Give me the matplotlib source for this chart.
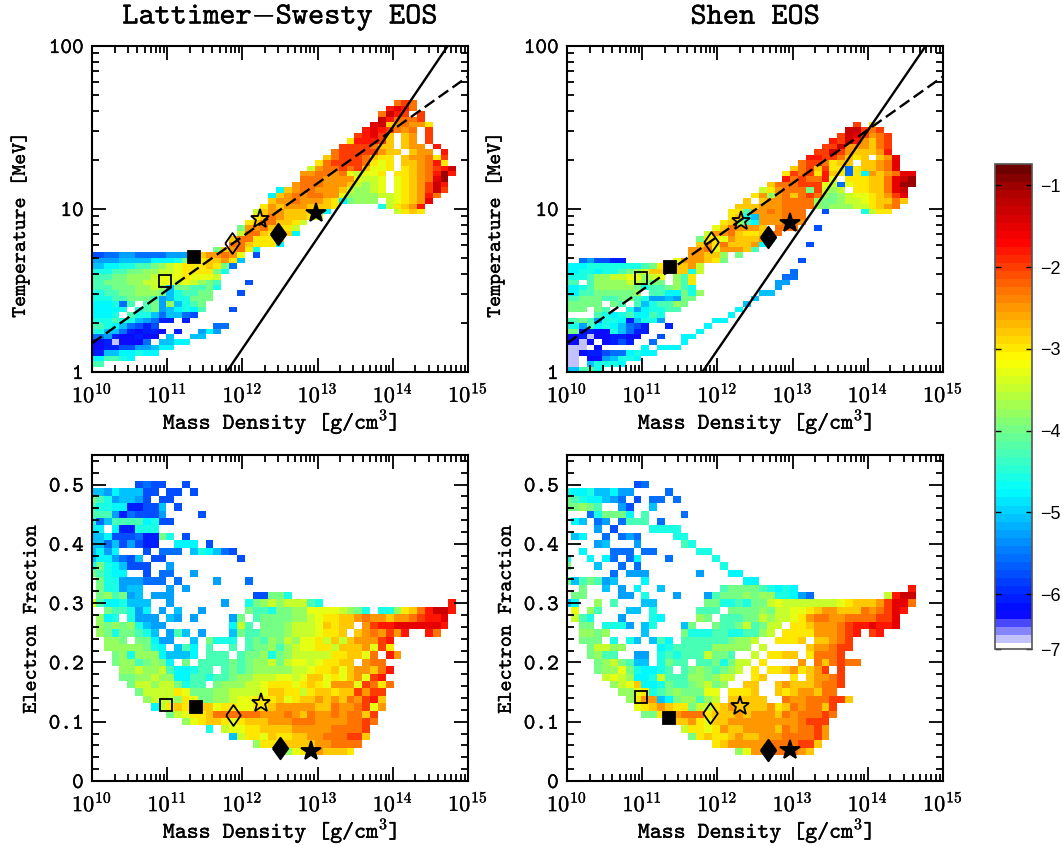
import matplotlib
matplotlib.use('Agg')
import matplotlib.pyplot as plt
import matplotlib.patheffects as pe
from matplotlib.colors import LinearSegmentedColormap, Normalize
from matplotlib.ticker import FixedLocator, LogLocator, NullFormatter
from matplotlib.cm import ScalarMappable
from matplotlib.text import Text
import numpy as np

# cell codes: '.' is an empty cell, otherwise log10 value = -7 + 0.25 * index in CODES
CODES = '0123456789abcdefghijklmnop'

# (temperature bin, first density bin, codes)
ls_temp_cells = [
    (49, 39, 'jkj'), (48, 38, 'lmlj'), (47, 37, 'jnlk.k'), (46, 37, 'nljjjk'),
    (45, 36, 'mnhijiig'), (44, 35, 'lmlkjij.k'), (43, 34, 'klmkh.hi.k'),
    (42, 33, 'glllkh.hi.k'), (41, 32, 'kkkkjhh.hii.l'), (40, 31, 'jkkkkkihh.hii.l'),
    (39, 30, 'hjkkkjhgg.hiijgk'), (38, 29, 'gjkkkkjgfg.hhijlg'),
    (37, 28, 'eijjkjkhffg.ghijkln'), (36, 27, 'iijjijfeffg.gghijlol'),
    (35, 27, 'jjjiiiifeef.fghijmo'), (34, 26, 'ijjjiiihedef.fghiknl'),
    (33, 24, '9hijjiiiheddef.fghiknk'), (32, 23, '9hijijjiifddddeefghilj'),
    (31, 23, 'hiijiiihg9cddd.efghim'), (30, 22, 'gihiiihhhg.....aeghil'),
    (29, 21, 'ehiihhhhg9........eghg'), (28, 21, 'ghjihhhge'), (27, 20, 'ghjjhhge'),
    (26, 19, 'ciijhgge'), (25, 19, 'ejjhggh9'), (24, 18, 'hjjgggh'), (23, 18, 'jjhggg9'),
    (22, 16, 'chijga'), (21, 0, '5566776666777'), (21, 13, '8hiijif.5'),
    (20, 0, '77778888999acgghhig8'), (19, 0, '8899aabbcdefggghgc6'),
    (18, 0, 'aaabbccddeefggggca'), (17, 0, 'bbbccdddefffgfffe'),
    (16, 0, 'bbcccddeeffefedcb'), (16, 20, '5'), (15, 0, 'bbbcccdded8ccbbca'),
    (14, 0, 'aabbccdddc8abbcc'), (14, 19, '5'), (13, 0, 'aaabbcccb78aaccc'),
    (12, 0, '999a6b.bc7d8abc'), (11, 0, '9999a.abc789a9b'), (11, 18, '5'),
    (10, 0, '999a.baa868865'), (9, 0, 'aaabaa87644.4'), (8, 0, 'bba986545'), (8, 16, '66'),
    (7, 0, 'aa88643443.4..797'), (6, 0, '667433433.8..88'), (5, 0, '33423336.8899'),
    (4, 0, '33445577899'), (3, 0, '448899a99'), (2, 0, '99bba9'), (1, 0, 'bb'),
]

shen_temp_cells = [
    (45, 37, 'k.g'), (44, 36, 'nnkjk'), (43, 35, 'knmkijk'), (42, 34, 'lknlihjk'),
    (41, 33, 'kkniiihjk'), (40, 32, 'kknkihhhil'), (39, 31, 'llkkjhgh.him'),
    (38, 30, 'jkkjghh.hhijm'), (37, 29, 'hjkhkgg6ghhijm'), (36, 28, 'gkjkglhg6g9ihijmm'),
    (35, 28, 'ljkjjlf.ggghhjmno'), (34, 26, 'hjjjkkkfe6fgghhjmoo'),
    (33, 25, 'egijjjckede.gghhjmn'), (32, 24, 'gidijhjkjdcdeffghikm'),
    (31, 23, 'h.hiijjjjdccdeefghhjh'), (30, 22, 'hhhiiijjjjdcdddeeghij'),
    (29, 21, 'ggbiijijjj'), (29, 33, '5'), (29, 38, 'aegg'),
    (28, 21, 'gha8iiijjj'), (27, 20, 'ghdb9iiijji'), (26, 19, 'fhjiiih.jjj'), (26, 32, '5'),
    (25, 18, 'eiijhgghjj'), (24, 17, 'cggfihhhi9'), (23, 17, 'higjhhhi9'), (23, 31, '5'),
    (22, 16, 'iijfiiihb'), (21, 16, 'iihhd.c'), (20, 2, '675544'), (20, 14, 'fiiihgc'),
    (20, 30, '5'), (19, 0, '999aaaaaaabcghhhie'), (18, 0, '99aa9aabcdehhhhhae'), (18, 29, '6'),
    (17, 0, 'aaabddeeffdef.dbg'), (17, 28, '66'), (16, 0, 'bb.bddddeedcc.dbg'), (16, 27, '77'),
    (15, 0, '99abdddddcabbcdba'), (15, 27, '7'), (14, 0, '99bbcccccd.bb99cad'), (14, 25, '88'),
    (13, 0, 'bbcccbbccba7787cc'), (13, 24, '8'), (12, 0, 'ccccc.cb.b8abbdc'), (12, 23, '8'),
    (11, 0, 'ccc.cb..a79aabb'), (11, 22, '9'), (10, 4, 'ba9ab99ba'), (10, 21, '9'),
    (9, 0, 'bbcb7aa948aa7'), (9, 19, '99'), (8, 0, 'aa7b9a98654'), (8, 13, '4'), (8, 18, '9'),
    (7, 0, 'cc3433a8644'), (7, 17, '9'), (6, 0, '3342334433'), (6, 12, '5'), (6, 15, '99'),
    (5, 0, '3323.345'), (5, 8, '4'), (5, 11, '6'), (5, 15, '9'),
    (4, 0, '222.3'), (4, 10, '9'), (4, 12, '999'), (3, 0, '22344566'), (3, 8, '9a99'),
    (2, 0, '22.3378aa9'), (1, 0, '22.8aaa9'), (0, 0, '88bba'),
]

# (electron fraction bin, first density bin, codes)
ls_ye_cells = [
    (40, 6, '5655..5'), (39, 0, '887988855.55.5'), (38, 0, 'cba78875.55'),
    (37, 0, 'baa9944558.5'), (36, 0, 'bbb7465557'), (36, 14, '5'), (35, 0, 'a68bbbb9a55'),
    (34, 0, '99.944aaa'), (33, 0, '889555644ca.5'), (32, 0, '886857544..999'), (32, 15, '5'),
    (31, 0, '8979...5.666'), (31, 13, '8a9865'), (30, 0, '8997658.55'), (30, 19, '5'),
    (29, 0, 'aca98555..7'), (28, 0, 'cba99..5.66'), (28, 13, '7'),
    (27, 1, 'caa777666.6'), (27, 16, '7'), (27, 20, '6'), (26, 1, 'caa788...7.7'),
    (25, 1, 'cdbc78.777'), (25, 21, '55'), (25, 23, 'cca'),
    (24, 0, 'fb99a888..7'), (24, 17, '7'), (24, 20, 'acdedeeeba'), (24, 46, 'l'),
    (23, 2, 'cbba79.7.8'), (23, 14, '7'), (23, 20, 'cbbaccddffffedca.aadghjlnnl'),
    (22, 1, 'd9a.a777.87.7'), (22, 18, '7c.bccccddefgghhijiihiijkllm'),
    (21, 1, 'dcdcda877'), (21, 18, '9eb.cccdeeefhghh.ikllmmmmmml'),
    (20, 1, 'dcaccba8.7b8.7'), (20, 18, '8cbbcccdeeefggh.hijikil..lj'),
    (19, 2, 'ddc.cc977..8.caaa.bcbdcedffgehehiiikl'),
    (18, 2, 'dddddca9.8b9.b..b.bccdbdeffggehhhifkg'),
    (17, 3, 'cdaddd98889.bbb.bccdacdeeeeegghhfj.li'),
    (16, 3, 'cddbcdc9.c.bbbbcbcddeceffefgghh.ijj'),
    (15, 4, 'ddeddeb99abb.bcbcdddddeefgghfhiihjl'),
    (14, 4, 'ccddedd99bbabbcddeeeffefhhfgfhifkl'),
    (13, 5, 'ceedeecabb.cdddeefgggfghgfiiifkjgj'),
    (12, 6, 'ceeeegfcccddeeeefhhggeghhghhkikk'),
    (11, 7, 'deeedgfccddeffggghfghhihihjiklh'),
    (10, 8, '9eghgghhfggffgghiiiiihhjiijkfi'),
    (9, 10, 'cefgghjjjjjjiiijihjiijijjhk'), (8, 12, 'dfghhgfghhhiiijjjiiiijjkj'),
    (7, 15, 'a'), (7, 17, 'effgghhhhiiiiijjjjk'), (6, 18, '8eggfhgghhiijjjkkh'),
    (5, 21, 'dggghhhhiijjjj'), (4, 25, 'dfghihhhg'),
]

shen_ye_cells = [
    (40, 9, '56'), (39, 0, 'a99a88977'), (39, 13, '6'), (38, 0, 'cba99876.5.66'), (38, 14, '6'),
    (37, 0, 'ccdcb..75'), (37, 11, '8'), (36, 3, '6accc9.b'), (36, 15, '6'),
    (35, 1, '98.67.6bbb.6'), (34, 4, '7'), (34, 6, '5'), (34, 11, 'aaaa'),
    (33, 1, '89'), (33, 5, '6.676'), (33, 14, 'aa'), (32, 4, '78'), (32, 9, '7'), (32, 15, 'ba'),
    (31, 2, '9'), (31, 6, '666'), (31, 10, '66'), (31, 17, 'aa'),
    (30, 0, 'a'), (30, 3, '9'), (30, 5, '96.69'), (30, 13, '6'), (30, 19, 'a'),
    (29, 0, 'c'), (29, 4, '8'), (29, 7, '6'), (29, 9, '6'), (29, 20, 'a'),
    (28, 6, '6'), (28, 8, '777'), (28, 17, '7'), (28, 21, '99'),
    (27, 0, 'c8bcb78'), (27, 10, '9'), (27, 23, '99'),
    (26, 2, 'c'), (26, 5, '8'), (26, 7, '7'), (26, 9, '9'), (26, 12, '8'),
    (26, 20, 'bccccba9a9'), (26, 44, 'l'),
    (25, 1, 'cc'), (25, 7, '77'), (25, 10, 'a'), (25, 14, '7'), (25, 18, '7bcccdcddaa976'),
    (25, 41, 'elnn'), (24, 0, '89'), (24, 4, 'd'), (24, 6, 'b'), (24, 10, '88'),
    (24, 18, 'ccaabaccefeeeeeeefghhhikmmj'),
    (23, 1, 'f'), (23, 3, 'db'), (23, 8, '88'), (23, 11, 'a'), (23, 17, 'bbb.ccccdceeffghiihhhjijkml'),
    (22, 1, 'eba'), (22, 7, '7'), (22, 11, 'a9'), (22, 17, 'dc.bbbccedeefgijjiijjjjkkm'),
    (21, 2, 'cc'), (21, 5, 'aaa7'), (21, 10, '8a'), (21, 15, '8c..cbbcebcee.gghiiijkllmllm'),
    (20, 2, 'ddcd'), (20, 10, '8'), (20, 15, 'caaabbaabbde.ggggiiijkl.kl'),
    (19, 2, 'ccc'), (19, 6, 'a.a8.8b9.bbbbbbcdde..gggh.hhijk'),
    (18, 3, 'ceedd'), (18, 12, '9abbbbbddddd.e.....hiijkk'),
    (17, 3, 'cdbb'), (17, 9, '77'), (17, 12, 'ababbbeccb..e.gghh.gjjjk'),
    (16, 4, 'cdecb88.acbb.bbcacee.g....i.jhjkjj'),
    (15, 4, 'cddfca99ab.bcdcbcde.g.gghighik.k'),
    (14, 5, 'efed99aebbbddcdee..gh...g.hiijk'),
    (13, 6, 'defh99acbbcdecd..hh..hihhhijjk'),
    (12, 7, 'ddfgabcdcccff.gggh..hghiihjj'),
    (11, 8, 'dgii89cddbde.hhhhh..jiijjjkkh'),
    (10, 9, 'fghihggceeghihhhhighjijjhk'),
    (9, 10, 'ccghijjjghhhihiiihjijjjkj'),
    (8, 14, 'hhigfhhiiiiiiiiijkkk'), (7, 15, 'eggfgihhiiiihjijjki'),
    (6, 16, 'cghgghihhiiijjjjki'), (5, 19, 'ghiiiiijjjjkkh'), (4, 22, 'dfiijjjjih'),
]

# marker order: open square, filled square, open diamond, open star, filled diamond, filled star
ls_temp_rho = [10.97, 11.36, 11.86, 12.24, 12.48, 12.98]
ls_temp_T = [3.63, 5.08, 6.2, 8.69, 7.0, 9.4]
shen_temp_rho = [10.99, 11.37, 11.91, 12.31, 12.67, 12.96]
shen_temp_T = [3.79, 4.43, 6.24, 8.5, 6.76, 8.24]
ls_ye_rho = [10.98, 11.38, 11.87, 12.25, 12.5, 12.91]
ls_ye = [0.128, 0.125, 0.111, 0.131, 0.055, 0.05]
shen_ye_rho = [10.98, 11.36, 11.9, 12.3, 12.67, 12.96]
shen_ye = [0.142, 0.107, 0.114, 0.127, 0.052, 0.053]

solid_T = [1, 100]
ls_solid_rho = [11.79, 14.73]
shen_solid_rho = [11.8, 14.77]
dashed_rho = [10, 15]
dashed_T = [1.5, 65]

cmap_values = [-6.67, -6.25, -5.5, -5.0, -4.72, -4.0, -3.5, -3.1, -3.0, -2.5, -2.0, -1.63, -1.0, -0.74]
cmap_colours = ['#ffffff', '#0000ff', '#0078ff', '#00cdff', '#00ffff', '#6eff8c', '#beff32', '#ffff00',
                '#fff000', '#ffa000', '#ff4600', '#ff0000', '#aa0000', '#6e0000']
cbar_ticks = [-6, -5, -4, -3, -2, -1]

vmin, vmax = cmap_values[0], cmap_values[-1]
cmap = LinearSegmentedColormap.from_list(
    'eos', [((v - vmin) / (vmax - vmin), c) for v, c in zip(cmap_values, cmap_colours)], N=60)
norm = Normalize(vmin, vmax)

plt.rcParams['font.family'] = ['cmtt10', 'DejaVu Serif']
plt.rcParams['mathtext.fontset'] = 'cm'
plt.rcParams['axes.unicode_minus'] = False

W, H = 1062, 846
OPEN_DIAMOND = [(-0.7, 0), (0, 1), (0.7, 0), (0, -1), (-0.7, 0)]
FULL_DIAMOND = [(-0.72, 0), (0, 1), (0.72, 0), (0, -1), (-0.72, 0)]


def decode(cells, nrow, ncol=49):
    grid = np.full((nrow, ncol), np.nan)
    for row, col, codes in cells:
        for i, c in enumerate(codes):
            if c != '.':
                grid[row, col + i] = -7 + 0.25 * CODES.index(c)
    return grid


def panel(x0, x1, y0, y1):
    return fig.add_axes([x0 / W, 1 - y1 / H, (x1 - x0) / W, (y1 - y0) / H])


def style(ax):
    for s in ax.spines.values():
        s.set_linewidth(1.5)
    ax.tick_params(which='major', direction='in', top=True, right=True, length=10, width=1.3,
                   labelsize=16, pad=6)
    ax.tick_params(which='minor', direction='in', top=True, right=True, length=5, width=1.3)
    ax.tick_params(axis='x', which='major', pad=8)
    ax.set_xscale('log')
    ax.set_xlim(1e10, 1e15)
    ax.xaxis.set_minor_locator(LogLocator(10, subs=np.arange(2, 10), numticks=8))
    ax.xaxis.set_minor_formatter(NullFormatter())
    ax.set_xticks([1e10, 1e11, 1e12, 1e13, 1e14, 1e15],
                  [r'$\mathtt{10}^{\mathtt{%d}}$' % n for n in range(10, 16)])
    ax.set_xlabel(r'Mass Density [g/cm$^{\mathtt{3}}$]', fontsize=16.4, labelpad=0)


def markers(ax, rho, y):
    x = 10.0 ** np.array(rho)
    styles = [('s', 'none', 8), ('s', 'k', 8.6), (OPEN_DIAMOND, 'none', 15), ('*', 'none', 14),
              (FULL_DIAMOND, 'k', 15.5), ('*', 'k', 15)]
    for xi, yi, (m, face, size) in zip(x, y, styles):
        ax.plot([xi], [yi], marker=m, ms=size, mfc=face, mec='k', mew=1.3, ls='none', zorder=5)


def temp_panel(ax, cells, rho, T, solid_rho, title):
    grid = decode(cells, 60)
    xedges = 10.0 ** (10 + 5 / 48 * (np.arange(50) - 0.5))
    yedges = 10.0 ** (np.arange(61) / 30)
    ax.pcolormesh(xedges, yedges, grid, cmap=cmap, norm=norm)
    style(ax)
    ax.set_yscale('log')
    ax.set_ylim(1, 100)
    ax.yaxis.set_major_locator(FixedLocator([1, 10, 100]))
    ax.yaxis.set_minor_locator(LogLocator(10, subs=np.arange(2, 10), numticks=5))
    ax.yaxis.set_minor_formatter(NullFormatter())
    ax.set_yticklabels(['1', '10', '100'])
    ax.set_ylabel('Temperature [MeV]', fontsize=15)
    ax.yaxis.set_label_coords(-0.165, 0.451)
    ax.plot(10.0 ** np.array(solid_rho), solid_T, 'k-', lw=1.7, zorder=4)
    ax.plot(10.0 ** np.array(dashed_rho), dashed_T, 'k--', lw=1.7, dashes=(5, 2.2), zorder=4)
    markers(ax, rho, T)
    ax.set_title(title, fontsize=22.2, pad=16)


def ye_panel(ax, cells, rho, ye):
    grid = decode(cells, 46)
    xedges = 10.0 ** (10 + 5 / 48 * (np.arange(50) - 0.5))
    yedges = (np.arange(47) - 0.5) * 0.0125
    ax.pcolormesh(xedges, yedges, grid, cmap=cmap, norm=norm)
    style(ax)
    ax.set_ylim(0, 0.55)
    ax.set_yticks([0, 0.1, 0.2, 0.3, 0.4, 0.5], ['0', '0.1', '0.2', '0.3', '0.4', '0.5'])
    ax.set_yticks(np.arange(0, 0.55, 0.02), minor=True)
    ax.set_ylabel('Electron Fraction', fontsize=15.2)
    ax.yaxis.set_label_coords(-0.136, 0.494)
    markers(ax, rho, ye)


fig = plt.figure(figsize=(W / 100, H / 100), dpi=100)

temp_panel(panel(92, 468, 46, 372), ls_temp_cells, ls_temp_rho, ls_temp_T, ls_solid_rho,
           r'Lattimer$-$Swesty EOS')
temp_panel(panel(567, 943, 46, 372), shen_temp_cells, shen_temp_rho, shen_temp_T, shen_solid_rho,
           'Shen EOS')
ye_panel(panel(92, 468, 455, 781), ls_ye_cells, ls_ye_rho, ls_ye)
ye_panel(panel(567, 943, 455, 781), shen_ye_cells, shen_ye_rho, shen_ye)

for t in fig.findobj(Text):
    t.set_path_effects([pe.withStroke(linewidth=0.2, foreground='k')])

cax = panel(995, 1032, 164, 649)
cb = fig.colorbar(ScalarMappable(norm=norm, cmap=cmap), cax=cax)
cb.solids.set_edgecolor('face')
cb.outline.set_edgecolor('#555555')
cb.outline.set_linewidth(1.2)
cb.set_ticks(cbar_ticks + [vmin], labels=['\u22126', '\u22125', '\u22124', '\u22123', '\u22122', '\u22121', '\u22127'],
             fontfamily='Liberation Sans', fontsize=13)
cb.ax.tick_params(direction='in', length=4, width=1, left=True, right=True, pad=6)

fig.savefig('out.png', dpi=100)
